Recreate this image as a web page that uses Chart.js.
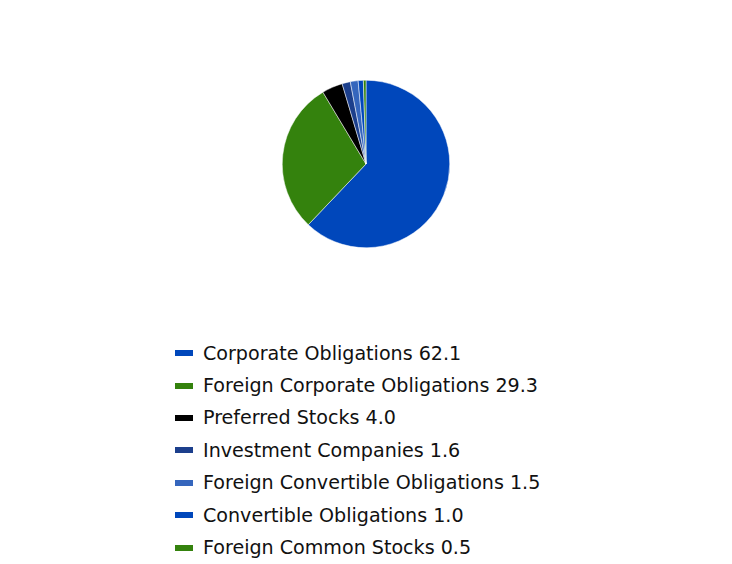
<!DOCTYPE html>
<html>
<head>
<meta charset="utf-8">
<script src="https://cdn.jsdelivr.net/npm/chart.js@4"></script>
<style>
  html, body { margin: 0; padding: 0; background: #fff; width: 732px; height: 564px; overflow: hidden; }
  #pieWrap { position: absolute; left: 282px; top: 80px; width: 168px; height: 168px; }
  #legend { position: absolute; left: 175px; top: 337px; font-family: "DejaVu Sans", sans-serif; font-size: 19.1px; color: #111; }
  .item { height: 32.4px; display: flex; align-items: center; white-space: nowrap; }
  .box { width: 18px; height: 6px; margin-right: 10px; }
</style>
</head>
<body>
<div id="pieWrap"><canvas id="c"></canvas></div>
<div id="legend"></div>
<script>
const categories = ["Corporate Obligations", "Foreign Corporate Obligations", "Preferred Stocks", "Investment Companies", "Foreign Convertible Obligations", "Convertible Obligations", "Foreign Common Stocks"];
const values = [62.1, 29.3, 4.0, 1.6, 1.5, 1.0, 0.5];
const colors = ["#0047BB", "#34820D", "#000000", "#1C3F8C", "#3566BD", "#0047BB", "#34820D"];

new Chart(document.getElementById('c'), {
  type: 'pie',
  data: {
    labels: categories,
    datasets: [{ data: values, backgroundColor: colors, borderWidth: 0.5, borderColor: '#ffffff' }]
  },
  options: {
    responsive: true,
    maintainAspectRatio: false,
    animation: false,
    layout: { padding: 0 },
    plugins: { legend: { display: false }, tooltip: { enabled: false } }
  }
});

const lg = document.getElementById('legend');
categories.forEach((c, i) => {
  const d = document.createElement('div');
  d.className = 'item';
  const b = document.createElement('span');
  b.className = 'box';
  b.style.background = colors[i];
  const t = document.createElement('span');
  t.textContent = c + ' ' + values[i].toFixed(1);
  d.appendChild(b); d.appendChild(t);
  lg.appendChild(d);
});
</script>
</body>
</html>
